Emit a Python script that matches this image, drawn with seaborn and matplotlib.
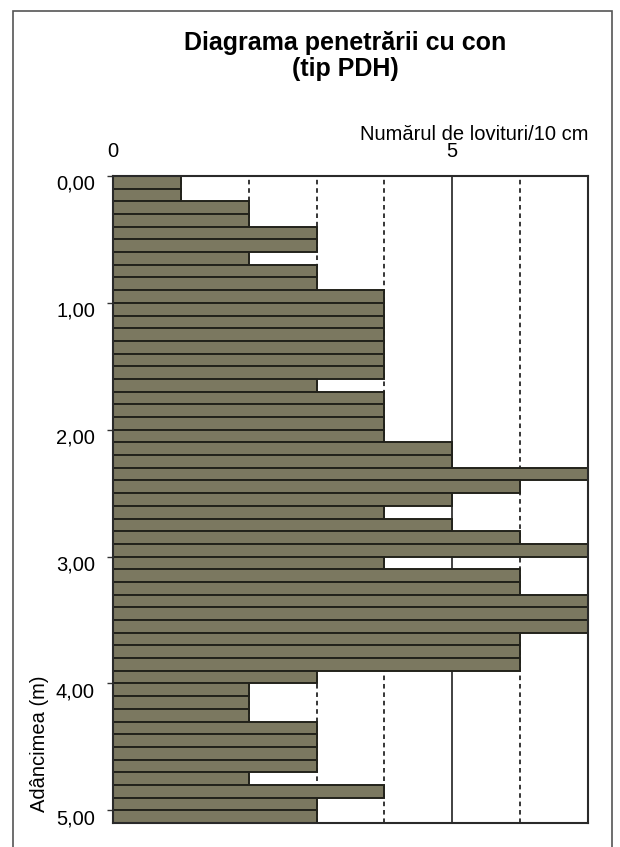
import matplotlib
matplotlib.use("Agg")
import matplotlib.pyplot as plt
import seaborn as sns
import pandas as pd
from matplotlib.patches import Rectangle

# depth of each 10 cm step (m) and blow count per step
depth_m = [0.0, 0.1, 0.2, 0.3, 0.4, 0.5, 0.6, 0.7, 0.8, 0.9,
           1.0, 1.1, 1.2, 1.3, 1.4, 1.5, 1.6, 1.7, 1.8, 1.9,
           2.0, 2.1, 2.2, 2.3, 2.4, 2.5, 2.6, 2.7, 2.8, 2.9,
           3.0, 3.1, 3.2, 3.3, 3.4, 3.5, 3.6, 3.7, 3.8, 3.9,
           4.0, 4.1, 4.2, 4.3, 4.4, 4.5, 4.6, 4.7, 4.8, 4.9,
           5.0]
blows = [1, 1, 2, 2, 3, 3, 2, 3, 3, 4,
         4, 4, 4, 4, 4, 4, 3, 4, 4, 4,
         4, 5, 5, 7, 6, 5, 4, 5, 6, 7,
         4, 6, 6, 7, 7, 7, 6, 6, 6, 3,
         2, 2, 2, 3, 3, 3, 3, 2, 4, 3,
         3]

depth_ticks = [0, 1, 2, 3, 4, 5]
depth_labels = ["0,00", "1,00", "2,00", "3,00", "4,00", "5,00"]
blow_ticks = [0, 5]
blow_labels = ["0", "5"]
blow_minor = [1, 2, 3, 4, 6]

title = "Diagrama penetrării cu con\n(tip PDH)"
xlabel = "Numărul de lovituri/10 cm"
ylabel = "Adâncimea (m)"

df = pd.DataFrame({"depth": depth_m, "blows": blows})

sns.set_theme(style="white")
plt.rcParams["font.family"] = ["Liberation Sans", "DejaVu Sans"]
plt.rcParams["text.color"] = "black"
plt.rcParams["axes.labelcolor"] = "black"

W, H = 620, 847
fig = plt.figure(figsize=(W / 100, H / 100), dpi=100)
fig.patch.set_facecolor("white")
ax = fig.add_axes([113 / W, 1 - 823 / H, 475 / W, 647 / H])

sns.barplot(
    data=df, x="blows", y="depth", orient="h", native_scale=True,
    width=1.0, color="#7b7860", saturation=1, edgecolor="#22221b",
    linewidth=1.4, errorbar=None, ax=ax,
)

ax.set_xlim(0, 7)
ax.set_ylim(5.05, -0.05)

# grid: solid major at 5, dashed minor at each unit
ax.set_axisbelow(True)
ax.set_xticks(blow_ticks, blow_labels)
ax.set_xticks(blow_minor, minor=True)
ax.grid(which="major", axis="x", color="#333333", lw=1.3, ls="-")
ax.grid(which="minor", axis="x", color="black", lw=1.1, ls=(0, (3, 2.5)))
ax.grid(which="both", axis="y", visible=False)

ax.xaxis.tick_top()
ax.xaxis.set_label_position("top")
ax.tick_params(axis="x", which="both", length=0, pad=11, labelsize=14.5, colors="black")

ax.set_yticks(depth_ticks, depth_labels)
ax.set_yticks([d - 0.05 for d in depth_ticks], minor=True)
ax.tick_params(axis="y", which="major", length=0, pad=13, labelsize=14.5, colors="black")
ax.tick_params(axis="y", which="minor", left=True, length=4, width=1, direction="out", color="#333333")

ax.set_xlabel(xlabel, loc="right", fontsize=14.5, labelpad=1.5)
ax.set_ylabel(ylabel, loc="bottom", fontsize=14.5)
ax.yaxis.set_label_coords(-0.135, 0.017)

for s in ax.spines.values():
    s.set_visible(True)
    s.set_color("#2a2a2a")
    s.set_linewidth(1.5)

fig.text(345 / W, 1 - 31 / H, title, ha="center", va="top", color="black",
         fontsize=18, fontweight="bold", linespacing=1.08)

# outer chart-area frame
fig.add_artist(Rectangle((13 / W, -0.01), (612 - 13) / W, 1.01 - 11 / H,
                         transform=fig.transFigure, fill=False,
                         edgecolor="#555555", lw=1.2))

fig.savefig("out.png", dpi=100)
